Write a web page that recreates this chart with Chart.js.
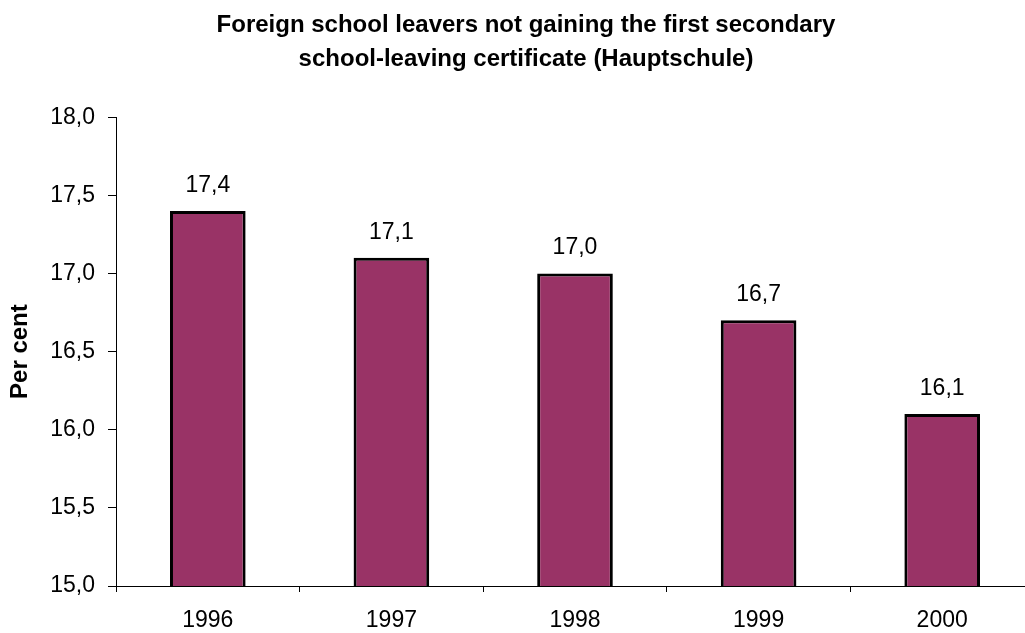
<!DOCTYPE html>
<html>
<head>
<meta charset="utf-8">
<script src="https://cdn.jsdelivr.net/npm/chart.js@4"></script>
<style>
  html, body { margin: 0; padding: 0; background: #fff; overflow: hidden; }
  #wrap { width: 1025px; height: 633px; }
</style>
</head>
<body>
<div id="wrap"><canvas id="chart" width="1025" height="633"></canvas></div>
<script>
  const years = ['1996', '1997', '1998', '1999', '2000'];
  const perCent = [17.4, 17.1, 17.0, 16.7, 16.1];
  const titleLines = ['Foreign school leavers not gaining the first secondary', 'school-leaving certificate (Hauptschule)'];
  const yTitle = 'Per cent';

  const fmt = v => Number(v).toFixed(1).replace('.', ',');
  const font = "'Liberation Sans', Arial, sans-serif";

  Chart.defaults.font.family = font;
  Chart.defaults.color = '#000';

  // data labels above each bar, placed from the bar elements
  const valueLabels = {
    id: 'valueLabels',
    afterDatasetsDraw(chart) {
      const ctx = chart.ctx;
      const meta = chart.getDatasetMeta(0);
      ctx.save();
      ctx.font = '23px ' + font;
      ctx.fillStyle = '#000';
      ctx.textAlign = 'center';
      ctx.textBaseline = 'alphabetic';
      meta.data.forEach((bar, i) => {
        ctx.fillText(fmt(perCent[i]), bar.x, bar.y - 19);
      });
      ctx.restore();
    }
  };

  // the original plot runs a bit past the right edge, and its title sits right of centre
  const layoutTweaks = {
    id: 'layoutTweaks',
    afterLayout(chart) {
      const x = chart.scales.x;
      x.width = 918;
      x.right = x.left + x.width;
      x.configure();
      const t = chart.titleBlock;
      if (t) t.left = 2 * 526 - t.right;
    }
  };

  new Chart(document.getElementById('chart'), {
    type: 'bar',
    data: {
      labels: years,
      datasets: [{
        data: perCent,
        backgroundColor: '#993366',
        borderColor: '#000',
        borderWidth: 3,
        borderSkipped: false,
        barPercentage: 0.412,
        categoryPercentage: 1.0,
      }],
    },
    options: {
      responsive: false,
      animation: false,
      layout: { padding: 0 },
      plugins: {
        legend: { display: false },
        tooltip: { enabled: false },
        title: {
          display: true,
          text: titleLines,
          color: '#000',
          font: { size: 24, weight: 'bold', lineHeight: 1.42 },
          padding: { top: 8, bottom: 41 },
        },
      },
      scales: {
        x: {
          afterFit(scale) { scale.height = 47; },
          grid: { drawOnChartArea: false, drawTicks: true, tickLength: 6, color: '#000' },
          border: { color: '#000', width: 1 },
          ticks: { font: { size: 23 }, padding: 15, color: '#000' },
        },
        y: {
          min: 15,
          max: 18,
          afterFit(scale) { scale.width = 116; },
          grid: { drawOnChartArea: false, drawTicks: true, tickLength: 8, color: '#000' },
          border: { color: '#000', width: 1 },
          ticks: { stepSize: 0.5, font: { size: 23 }, padding: 13, color: '#000', callback: v => fmt(v) },
          title: {
            display: true,
            text: yTitle,
            color: '#000',
            font: { size: 24, weight: 'bold', lineHeight: 1.2 },
            padding: { top: 6, bottom: 0 },
          },
        },
      },
    },
    plugins: [valueLabels, layoutTweaks],
  });
</script>
</body>
</html>
